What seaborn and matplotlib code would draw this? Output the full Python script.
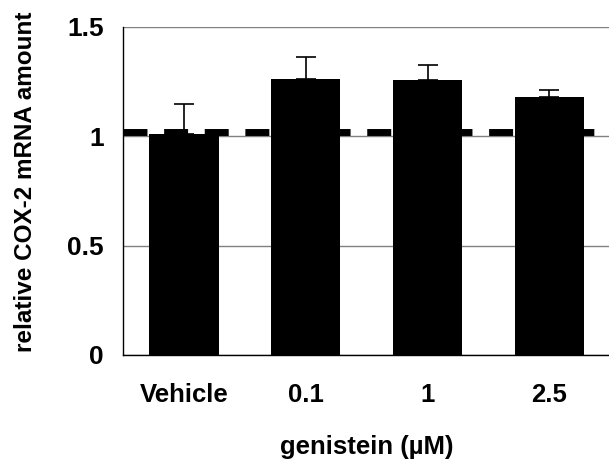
import matplotlib
matplotlib.use("Agg")
import matplotlib.pyplot as plt
import seaborn as sns
import pandas as pd

categories = ["Vehicle", "0.1", "1", "2.5"]
values = [1.01, 1.26, 1.255, 1.18]
errors = [0.135, 0.10, 0.07, 0.03]
reference_level = 1.02
y_ticks = [0, 0.5, 1, 1.5]
y_tick_labels = ["0", "0.5", "1", "1.5"]

sns.set_theme(style="white")
plt.rcParams['font.family'] = ['Liberation Sans', 'DejaVu Sans']
plt.rcParams['font.weight'] = 'bold'
plt.rcParams['text.color'] = 'black'
plt.rcParams['axes.labelcolor'] = 'black'
plt.rcParams['xtick.color'] = 'black'
plt.rcParams['ytick.color'] = 'black'

df = pd.DataFrame({"dose": categories, "value": values})

fig = plt.figure(figsize=(6.09, 4.59), dpi=100)
ax = fig.add_axes([0.202, 0.2266, 0.80, 0.7154])

ax.set_ylim(0, 1.5)
ax.set_yticks(y_ticks)
ax.set_yticklabels(y_tick_labels)
ax.yaxis.grid(True, color="#808080", linewidth=1.0)
ax.set_axisbelow(True)

sns.barplot(data=df, x="dose", y="value", color="black", saturation=1,
            width=0.57, ax=ax, errorbar=None, edgecolor="black", linewidth=0)
ax.set_xlim(-0.5, 3.5)

ax.errorbar(range(len(categories)), values, yerr=[[0]*len(errors), errors],
            fmt="none", ecolor="black", elinewidth=1.2, capsize=7, capthick=1.2, zorder=4)

ax.plot([-0.5, 3.39], [reference_level]*2, color="black", linewidth=5,
        dashes=(3.45, 2.4), solid_capstyle="butt", dash_capstyle="butt", zorder=5)

for s in ["top", "right"]:
    ax.spines[s].set_visible(False)
ax.spines["left"].set_color("black")
ax.spines["bottom"].set_color("black")
ax.spines["left"].set_linewidth(1.0)
ax.spines["bottom"].set_linewidth(1.0)

ax.set_xticks([0, 1, 2, 3])
ax.set_xticklabels(categories)
ax.tick_params(axis="x", length=0, pad=20, labelsize=18.5, labelcolor="black")
ax.set_xticks([-0.5, 0.5, 1.5, 2.5, 3.5], minor=True)
ax.tick_params(axis="x", which="minor", length=6, width=1, color="black", direction="out")
ax.tick_params(axis="y", length=6, width=1, color="black", direction="out", labelsize=19,
               pad=8, labelcolor="black")
for lab in ax.get_xticklabels() + ax.get_yticklabels():
    lab.set_fontweight("bold")

ax.set_xlabel("genistein (µM)", fontsize=18.5, fontweight="bold", labelpad=20, color="black")
ax.set_ylabel("relative COX-2 mRNA amount", fontsize=17.5, fontweight="bold", labelpad=21.5, color="black")
ax.yaxis.label.set_y(0.527)

fig.savefig("out.png", dpi=100)
